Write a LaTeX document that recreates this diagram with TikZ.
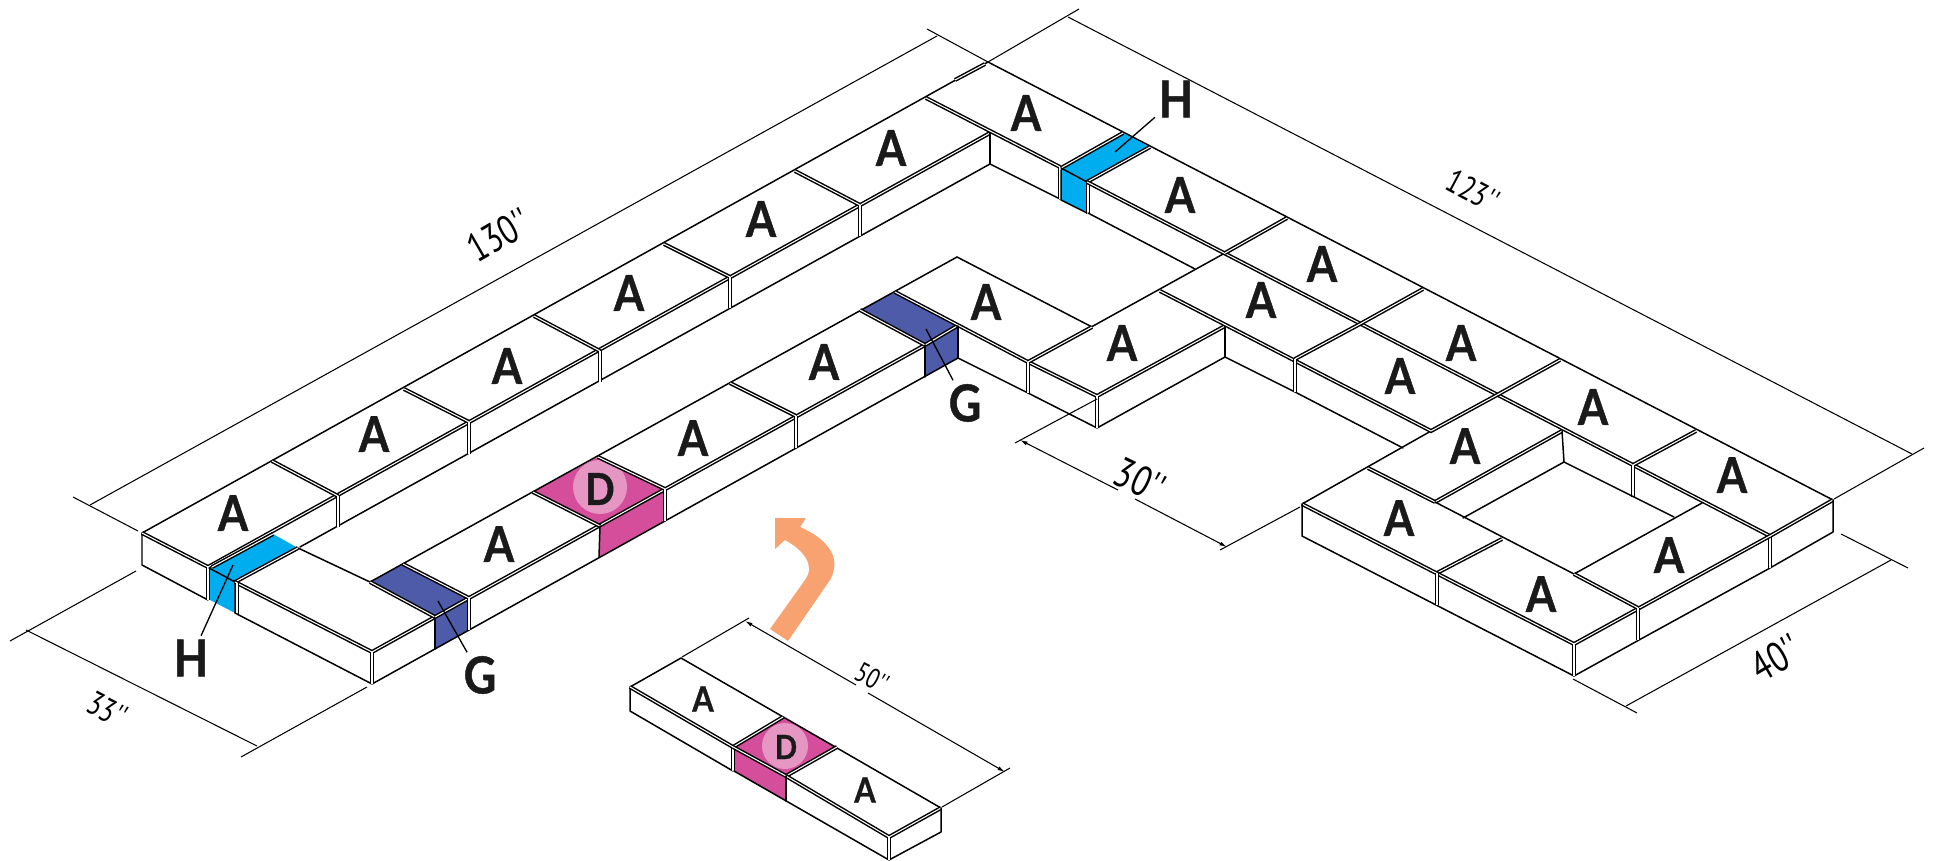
\documentclass[tikz,border=0pt]{standalone}
\usepackage{fontspec}
\usetikzlibrary{arrows.meta}
\setmainfont{Lato}[FakeStretch=0.88, BoldFeatures={FakeBold=0.9}]
\newfontfamily\dimfont{PT Sans}[FakeStretch=0.78]
\definecolor{padcyan}{HTML}{00AEEF}
\definecolor{padblue}{HTML}{4D5BA8}
\definecolor{padpink}{HTML}{D44E9B}
\definecolor{padring}{HTML}{E596C3}
\definecolor{padarrow}{HTML}{F9A271}
\definecolor{padink}{HTML}{1A1A1A}

\begin{document}
\begin{tikzpicture}[
    x=0.02cm, y=-0.02cm,
    edge/.style={line width=0.85pt, line cap=round, line join=round},
    seam/.style={line width=0.85pt, double=white, double distance=0.6pt, line cap=butt},
    dim/.style={line width=0.6pt},
    leader/.style={line width=0.75pt},
    tipdim/.style={-{Latex[length=1.5mm,width=0.8mm]}},
    seat/.style={font=\fontsize{28}{28}\selectfont\bfseries, text=padink, inner sep=0pt},
    seatsmall/.style={font=\fontsize{20}{20}\selectfont\bfseries, text=padink, inner sep=0pt},
    callout/.style={font=\fontsize{29}{29}\selectfont\bfseries, text=padink, inner sep=2pt},
    dimtext/.style={font=\dimfont, text=black, inner sep=0pt}
]
    \useasboundingbox (0,0) rectangle (1933,861);

    % coloured faces
    \fill[padcyan] (212,567) -- (273,534) -- (298,548) -- (235,582) -- (235,613) -- (210,600) -- (210,570) -- cycle;
    \fill[padcyan] (1061,168) -- (1123,133) -- (1150,147) -- (1087,182) -- (1087,213) -- (1061,200) -- cycle;
    \fill[padblue] (370,582) -- (403,564) -- (469,598) -- (469,630) -- (435,649) -- (435,617) -- cycle;
    \fill[padblue] (860,310) -- (895,292) -- (957,326) -- (958,358) -- (925,377) -- (925,345) -- cycle;
    \fill[padpink] (533,492) -- (598,457) -- (665,489) -- (664,521) -- (599,557) -- (600,526) -- cycle;
    \fill[padring] (600,487) circle (27);
    \fill[padpink] (733,747) -- (783,717) -- (837,747) -- (786,776) -- (786,801) -- (733,771) -- cycle;
    \fill[padring] (785,746) circle (23);
    \fill[padarrow] (770,629) -- (788,641) -- (830,580) .. controls (840,562) and (834,542) .. (800,527) -- (806,518) -- (775,518) -- (775,549) -- (785,540) .. controls (803,550) and (816,565) .. (805,580) -- cycle;

    % back edges
    \draw[edge] (142,533) -- (988,62) -- (1833,500);
    \draw[edge] (957,257) -- (370,582) -- (298,548);
    \draw[edge] (957,257) -- (1092,327);
    \draw[edge] (1225,253) -- (1028,362);
    \draw[edge] (1431,431) -- (1302,504);
    \draw[seam] (955,80) -- (985,64);

    % outer arm
    \draw[edge] (142,533) -- (142,565) -- (208,600);
    \draw[seam] (142,533) -- (208,567) -- (990,133);
    \draw[seam] (208,567) -- (208,600);
    \draw[edge] (300,547) -- (990,164) -- (1060,199);
    \draw[edge] (990,133) -- (990,164);
    \draw[seam] (272,461) -- (338,496);
    \draw[seam] (338,496) -- (338,527);
    \draw[seam] (404,389) -- (469,422);
    \draw[seam] (469,422) -- (469,454);
    \draw[seam] (534,316) -- (600,351);
    \draw[seam] (600,351) -- (600,382);
    \draw[seam] (664,244) -- (730,277);
    \draw[seam] (730,277) -- (730,308);
    \draw[seam] (795,171) -- (860,205);
    \draw[seam] (860,205) -- (860,236);
    \draw[seam] (926,98) -- (1060,167);
    \draw[seam] (1060,167) -- (1060,199);

    % left corner block
    \draw[seam] (212,567) -- (273,534);
    \draw[seam] (235,582) -- (298,548);
    \draw[edge] (209,568) -- (235,582) -- (235,613);
    \draw[seam] (235,582) -- (372,652) -- (435,617);
    \draw[seam] (237,583) -- (237,614);
    \draw[edge] (235,613) -- (372,684) -- (958,358) -- (1028,393) -- (1097,428) -- (1225,357) -- (1295,392) -- (1403,448);
    \draw[seam] (372,652) -- (372,684);
    \draw[seam] (370,582) -- (435,617);
    \draw[edge] (435,617) -- (435,649);
    \draw[seam] (435,617) -- (469,598);

    % inner arm
    \draw[seam] (403,564) -- (469,598) -- (925,345) -- (957,326);
    \draw[seam] (469,598) -- (469,630);
    \draw[seam] (533,492) -- (600,526);
    \draw[seam] (598,457) -- (665,489);
    \draw[edge] (600,526) -- (599,557);
    \draw[seam] (665,489) -- (665,521);
    \draw[seam] (730,383) -- (796,416);
    \draw[seam] (796,416) -- (796,448);
    \draw[seam] (860,310) -- (925,345);
    \draw[edge] (925,345) -- (925,377);
    \draw[seam] (895,292) -- (1028,362) -- (1097,396) -- (1225,326);
    \draw[edge] (958,326) -- (958,358);
    \draw[seam] (1028,362) -- (1092,327);
    \draw[seam] (1028,362) -- (1028,393);
    \draw[seam] (1097,396) -- (1097,428);
    \draw[edge] (1225,326) -- (1225,357);

    % right arm
    \draw[seam] (1061,168) -- (1123,133);
    \draw[seam] (1087,182) -- (1150,147);
    \draw[edge] (1061,168) -- (1087,182);
    \draw[edge] (1061,170) -- (1061,200) -- (1087,213);
    \draw[seam] (1088,182) -- (1088,214);
    \draw[seam] (1087,182) -- (1770,536) -- (1833,500);
    \draw[edge] (1088,213) -- (1195,269);
    \draw[seam] (1225,253) -- (1287,218);
    \draw[seam] (1360,324) -- (1423,289);
    \draw[seam] (1497,395) -- (1560,360);
    \draw[seam] (1633,465) -- (1696,431);
    \draw[seam] (1160,291) -- (1431,431) -- (1497,395);
    \draw[seam] (1295,359) -- (1360,324);
    \draw[seam] (1295,359) -- (1295,392);
    \draw[seam] (1633,465) -- (1633,497);
    \draw[edge] (1564,462) -- (1634,497) -- (1674,517);
    \draw[edge] (1833,500) -- (1833,532) -- (1770,568) -- (1639,640) -- (1574,676);
    \draw[seam] (1770,536) -- (1770,568);

    % square end of the right arm
    \draw[seam] (1562,431) -- (1435,502);
    \draw[edge] (1562,431) -- (1564,462) -- (1463,518);
    \draw[seam] (1368,468) -- (1435,502);
    \draw[edge] (1435,502) -- (1574,574) -- (1702,503);
    \draw[seam] (1502,539) -- (1437,573);
    \draw[seam] (1302,504) -- (1574,644) -- (1770,536);
    \draw[seam] (1574,574) -- (1638,608);
    \draw[edge] (1302,504) -- (1302,536) -- (1574,676);
    \draw[seam] (1437,573) -- (1437,605);
    \draw[seam] (1574,644) -- (1574,676);
    \draw[seam] (1638,608) -- (1638,640);

    % loose module
    \draw[edge] (630,687) -- (681,658) -- (941,808);
    \draw[edge] (630,687) -- (630,711) -- (733,771);
    \draw[seam] (630,687) -- (733,747) -- (783,717);
    \draw[seam] (733,747) -- (733,771);
    \draw[seam] (837,747) -- (786,776);
    \draw[seam] (733,747) -- (786,776) -- (889,837) -- (941,808);
    \draw[edge] (786,776) -- (786,801);
    \draw[edge] (734,771) -- (889,860) -- (941,832) -- (941,808);
    \draw[seam] (889,837) -- (889,860);

    % dimension lines
    \coordinate (d130ext1) at (73,497);
    \coordinate (d130ext2) at (138,531);
    \coordinate (d130a) at (90,505);
    \coordinate (d130b) at (937,36);
    \coordinate (d130ext3) at (927,29);
    \coordinate (d130ext4) at (988,62);
    \draw[dim] (d130ext1) -- (d130ext2);
    \draw[dim] (d130a) -- (d130b);
    \draw[dim] (d130ext3) -- (d130ext4);

    \coordinate (d123ext1) at (988,62);
    \coordinate (d123ext2) at (1079,9);
    \coordinate (d123a) at (1068,17);
    \coordinate (d123b) at (1912,454);
    \coordinate (d123ext3) at (1834,499);
    \coordinate (d123ext4) at (1924,448);
    \draw[dim] (d123ext1) -- (d123ext2);
    \draw[dim] (d123a) -- (d123b);
    \draw[dim] (d123ext3) -- (d123ext4);

    \coordinate (d33ext1) at (136,571);
    \coordinate (d33ext2) at (10,641);
    \coordinate (d33a) at (26,630);
    \coordinate (d33b) at (257,746);
    \coordinate (d33ext3) at (367,687);
    \coordinate (d33ext4) at (241,757);
    \draw[dim] (d33ext1) -- (d33ext2);
    \draw[dim] (d33a) -- (d33b);
    \draw[dim] (d33ext3) -- (d33ext4);

    \coordinate (d30ext1) at (1097,399);
    \coordinate (d30ext2) at (1015,443);
    \coordinate (d30a) at (1020,440);
    \coordinate (d30b) at (1118,490);
    \coordinate (d30c) at (1135,499);
    \coordinate (d30d) at (1227,547);
    \coordinate (d30ext3) at (1300,507);
    \coordinate (d30ext4) at (1220,550);
    \draw[dim] (d30ext1) -- (d30ext2);
    \draw[dim, tipdim] (d30b) -- (d30a);
    \draw[dim, tipdim] (d30c) -- (d30d);
    \draw[dim] (d30ext3) -- (d30ext4);

    \coordinate (d40ext1) at (1573,679);
    \coordinate (d40ext2) at (1637,713);
    \coordinate (d40a) at (1626,706);
    \coordinate (d40b) at (1891,560);
    \coordinate (d40ext3) at (1841,534);
    \coordinate (d40ext4) at (1908,568);
    \draw[dim] (d40ext1) -- (d40ext2);
    \draw[dim] (d40a) -- (d40b);
    \draw[dim] (d40ext3) -- (d40ext4);

    \coordinate (d50ext1) at (682,657);
    \coordinate (d50ext2) at (749,618);
    \coordinate (d50a) at (745,621);
    \coordinate (d50b) at (856,685);
    \coordinate (d50c) at (868,693);
    \coordinate (d50d) at (1005,772);
    \coordinate (d50ext3) at (942,807);
    \coordinate (d50ext4) at (1010,768);
    \draw[dim] (d50ext1) -- (d50ext2);
    \draw[dim, tipdim] (d50b) -- (d50a);
    \draw[dim, tipdim] (d50c) -- (d50d);
    \draw[dim] (d50ext3) -- (d50ext4);

    \node[dimtext, rotate=30, font=\dimfont\fontsize{23}{23}\selectfont] (t130) at (499,235) {130''};
    \node[dimtext, rotate=-28, font=\dimfont\fontsize{19}{19}\selectfont] (t123) at (1473,191) {123''};
    \node[dimtext, rotate=-28, font=\dimfont\fontsize{19}{19}\selectfont] (t33) at (107,710) {33''};
    \node[dimtext, rotate=-26, font=\dimfont\fontsize{24}{24}\selectfont] (t30) at (1140,480) {30''};
    \node[dimtext, rotate=30, font=\dimfont\fontsize{24}{24}\selectfont] (t40) at (1776,658) {40''};
    \node[dimtext, rotate=-28, font=\dimfont\fontsize{16}{16}\selectfont] (t50) at (872,678) {50''};

    % seat labels
    \node[seat] (a1) at (233,513) {A};
    \node[seat] (a2) at (374,434) {A};
    \node[seat] (a3) at (507,366) {A};
    \node[seat] (a4) at (629,293) {A};
    \node[seat] (a5) at (761,219) {A};
    \node[seat] (a6) at (891,148) {A};
    \node[seat] (a7) at (1026,113) {A};
    \node[seat] (a8) at (1180,195) {A};
    \node[seat] (a9) at (1322,264) {A};
    \node[seat] (a10) at (1461,343) {A};
    \node[seat] (a11) at (1593,407) {A};
    \node[seat] (a12) at (1732,475) {A};
    \node[seat] (a13) at (1261,300) {A};
    \node[seat] (a14) at (1400,376) {A};
    \node[seat] (a15) at (1465,446) {A};
    \node[seat] (a16) at (1399,518) {A};
    \node[seat] (a17) at (1541,594) {A};
    \node[seat] (a18) at (1669,555) {A};
    \node[seat] (a19) at (1122,343) {A};
    \node[seat] (a20) at (986,302) {A};
    \node[seat] (a21) at (824,362) {A};
    \node[seat] (a22) at (693,438) {A};
    \node[seat] (a23) at (499,544) {A};
    \node[seatsmall] (a24) at (703,699) {A};
    \node[seatsmall] (a25) at (865,790) {A};
    \node[seat, font=\fontsize{25}{25}\selectfont\bfseries] (d1) at (600,489) {D};
    \node[seatsmall, font=\fontsize{19}{19}\selectfont\bfseries] (d2) at (786,747) {D};

    % callouts
    \coordinate (hLeftEnd) at (233,565);
    \coordinate (gLeftEnd) at (438,601);
    \coordinate (gRightEnd) at (926,329);
    \coordinate (hRightEnd) at (1115,152);
    \node[callout] (hLeft) at (191,658) {H};
    \node[callout] (gLeft) at (480,675) {G};
    \node[callout] (gRight) at (965,403) {G};
    \node[callout] (hRight) at (1176,99) {H};
    \draw[leader] (hLeft) -- (hLeftEnd);
    \draw[leader] (gLeft) -- (gLeftEnd);
    \draw[leader] (gRight) -- (gRightEnd);
    \draw[leader] (hRight) -- (hRightEnd);
\end{tikzpicture}
\end{document}
